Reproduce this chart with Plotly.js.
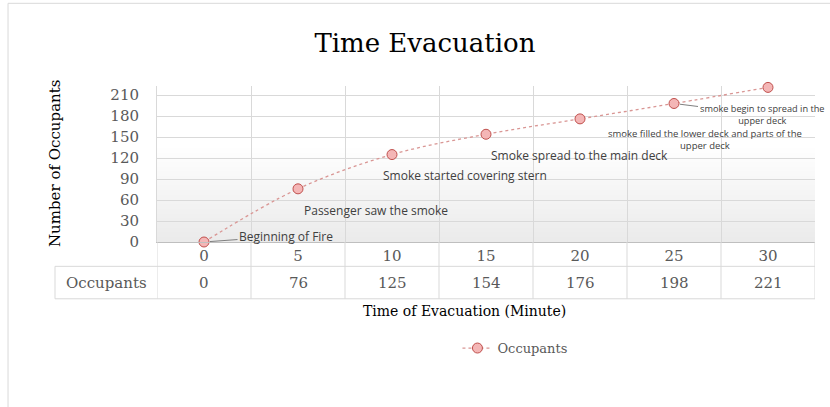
<!DOCTYPE html>
<html><head><meta charset="utf-8">
<script src="https://cdn.plot.ly/plotly-3.0.1.min.js"></script>
<style>html,body{margin:0;padding:0;background:#fff;}#chart{width:830px;height:407px;}</style>
</head><body><div id="chart"></div>
<script>
const minutes = ['0','5','10','15','20','25','30'];
const occupants = [0, 76, 125, 154, 176, 198, 221];
const yTicks = [0, 30, 60, 90, 120, 150, 180, 210];
const seriesName = 'Occupants';
const eventLabels = [
  'Beginning of Fire',
  'Passenger saw the smoke',
  'Smoke started covering stern',
  'Smoke spread to the main deck',
  'smoke filled the lower deck and parts of the<br>upper deck',
  'smoke begin to spread in the<br>upper deck'
];

const serif = 'DejaVu Serif, serif';
const sans = 'Open Sans, sans-serif';
const gray = '#595959';
const grid = '#d9d9d9';

const trace = {
  x: minutes, y: occupants, type: 'scatter', mode: 'lines+markers', name: seriesName,
  line: {shape: 'spline', dash: 'dot', color: '#d99694', width: 1.3},
  marker: {size: 10, color: '#f4b6b6', line: {color: '#c0504d', width: 1}},
  cliponaxis: false
};

const shapes = [];
// subtle bottom gradient in plot area
for (let k = 0; k < 20; k++) {
  shapes.push({type:'rect', xref:'paper', yref:'paper', x0:0, x1:1, y0:0, y1:0.03 + k*0.03,
    fillcolor:'#dcdcdc', opacity:0.03, line:{width:0}, layer:'below'});
}
// table vertical lines at category boundaries
for (let i = 0; i <= minutes.length; i++) {
  shapes.push({type:'line', xref:'x', yref:'paper', x0:i-0.5, x1:i-0.5, y0:0, y1:-0.364,
    line:{color:grid, width:1}});
}
// table horizontal lines
shapes.push({type:'line', xref:'paper', yref:'paper', x0:-0.155, x1:1, y0:-0.156, y1:-0.156, line:{color:grid, width:1}});
shapes.push({type:'line', xref:'paper', yref:'paper', x0:-0.155, x1:1, y0:-0.364, y1:-0.364, line:{color:grid, width:1}});
shapes.push({type:'line', xref:'paper', yref:'paper', x0:-0.155, x1:-0.155, y0:-0.156, y1:-0.364, line:{color:grid, width:1}});
// outer chart border
shapes.push({type:'rect', xref:'paper', yref:'paper', x0:-0.2264, x1:1.05, y0:1.53, y1:-1.2,
  line:{color:'#d9d9d9', width:1}, fillcolor:'rgba(0,0,0,0)'});

const annotations = [];
// table row values
minutes.forEach((m, i) => {
  annotations.push({x: i, xref:'x', y:-0.266, yref:'paper', text: String(occupants[i]), showarrow:false,
    font:{family:serif, size:15, color:gray}, xanchor:'center', yanchor:'middle'});
});
annotations.push({x:-0.0775, xref:'paper', y:-0.266, yref:'paper', text: seriesName, showarrow:false,
  font:{family:serif, size:15, color:gray}, xanchor:'center', yanchor:'middle'});
// axis titles
annotations.push({x:0.468, xref:'paper', y:-0.445, yref:'paper', text:'Time of Evacuation (Minute)', showarrow:false,
  font:{family:serif, size:14, color:'#000'}, xanchor:'center', yanchor:'middle'});
annotations.push({x:-0.155, xref:'paper', y:0.50, yref:'paper', text:'Number of Occupants', showarrow:false, textangle:-90,
  font:{family:serif, size:15, color:'#000'}, xanchor:'center', yanchor:'middle'});
// event labels
const evFont = {family:sans, size:12, color:'#404040'};
const evSmall = {family:sans, size:9.5, color:'#404040'};
annotations.push({x:0, y:occupants[0], xref:'x', yref:'y', text:eventLabels[0], showarrow:true,
  ax:82, ay:-6, arrowhead:0, arrowwidth:1, arrowcolor:'#7f7f7f', standoff:6, font:evFont});
annotations.push({x:1, y:occupants[1], xref:'x', yref:'y', text:eventLabels[1], showarrow:false,
  xanchor:'left', yanchor:'middle', xshift:4, yshift:-22, font:evFont});
annotations.push({x:2, y:occupants[2], xref:'x', yref:'y', text:eventLabels[2], showarrow:false,
  xanchor:'left', yanchor:'middle', xshift:-11, yshift:-21, font:evFont});
annotations.push({x:3, y:occupants[3], xref:'x', yref:'y', text:eventLabels[3], showarrow:false,
  xanchor:'left', yanchor:'middle', xshift:3, yshift:-21, font:evFont});
annotations.push({x:4, y:occupants[4], xref:'x', yref:'y', text:eventLabels[4], showarrow:false,
  xanchor:'center', yanchor:'middle', xshift:125, yshift:-21, font:evSmall});
annotations.push({x:5, y:occupants[5], xref:'x', yref:'y', text:eventLabels[5], showarrow:true,
  ax:88, ay:11, arrowhead:0, arrowwidth:1, arrowcolor:'#7f7f7f', standoff:6, font:{family:sans, size:9.2, color:'#404040'}});

const layout = {
  width:830, height:407,
  margin:{l:157, r:15, t:86, b:165},
  paper_bgcolor:'#fff', plot_bgcolor:'#fff',
  title:{text:'Time Evacuation', font:{family:serif, size:26, color:'#000'}, x:0.512, xanchor:'center', y:0.895, yanchor:'middle'},
  xaxis:{type:'category', categoryorder:'array', categoryarray:minutes, range:[-0.5, 6.5], tickson:'boundaries',
    showgrid:true, gridcolor:grid, ticks:'', showline:true, linecolor:'#bfbfbf',
    tickfont:{family:serif, size:15, color:gray}, fixedrange:true},
  yaxis:{range:[0, 223], tickvals:yTicks, showgrid:true, gridcolor:grid, zeroline:false, showline:true, linecolor:grid,
    ticks:'', ticklabelstandoff:14, tickfont:{family:serif, size:15, color:gray}, fixedrange:true},
  showlegend:true,
  legend:{orientation:'h', x:0.544, xanchor:'center', y:-0.68, yanchor:'middle', font:{family:serif, size:13, color:gray}},
  shapes:shapes, annotations:annotations
};
Plotly.newPlot('chart', [trace], layout, {displayModeBar:false, staticPlot:true});
</script></body></html>
